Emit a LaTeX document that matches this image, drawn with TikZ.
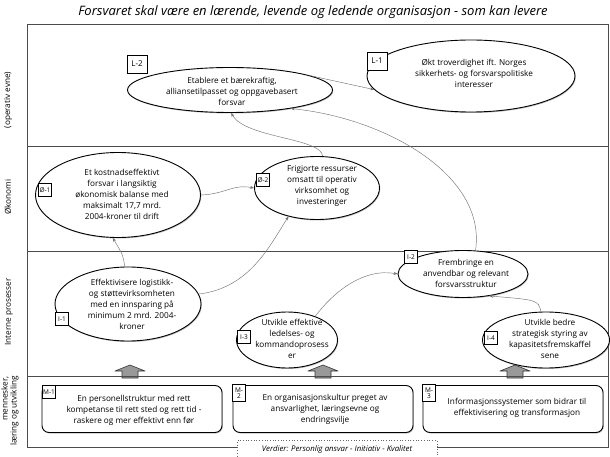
\documentclass[tikz,border=0pt]{standalone}
\usepackage{fontspec}
\setmainfont{Open Sans}
\usetikzlibrary{shapes.geometric,arrows.meta,shadows}

\begin{document}
\begin{tikzpicture}  % ------ Strategikart -----------------------------
      [x=1pt, y=-1pt,
       frame/.style={draw=black!70, line width=0.9pt},
       goal/.style={ellipse, draw, line width=0.9pt, fill=white, inner sep=0pt,
                    drop shadow={shadow xshift=0.8pt, shadow yshift=-1pt, opacity=0.5}},
       goaltxt/.style={align=center, inner sep=0pt, font=\fontsize{8.2}{11}\selectfont},
       mbox/.style={draw, line width=0.9pt, fill=white, rounded corners=7pt,
                    minimum width=180pt, minimum height=47pt,
                    drop shadow={shadow xshift=0.8pt, shadow yshift=-1pt, opacity=0.5}},
       tag/.style={draw, fill=white, line width=0.6pt, inner sep=0.6pt, align=center,
                   font=\fontsize{6.5}{6.5}\selectfont},
       sidelbl/.style={rotate=90, align=right, font=\fontsize{8.2}{9}\selectfont},
       link/.style={draw=black!55, line width=0.45pt, -{Stealth[length=4pt,width=3pt]}},
       uparrow/.style={draw=black!80, fill=black!40, line width=0.6pt, line join=round}]

    \useasboundingbox (0,0) rectangle (610,457);

    \node[font=\itshape\fontsize{13}{14}\selectfont] (title) at (313,12)
      {Forsvaret skal være en lærende, levende og ledende organisasjon - som kan levere};

    % ramme og skillelinjer
    \draw[frame] (27,24) rectangle (608,447);
    \draw[frame] (27,146) -- (608,146);
    \draw[frame] (27,251) -- (608,251);

    \node[sidelbl] (p1) at (8,100) {(operativ evne)};
    \node[sidelbl] (p2) at (8,197) {Økonomi};
    \node[sidelbl] (p3) at (9,312) {Interne prosesser};
    \node[sidelbl] (p4) at (10,411) {mennesker,\\læring og utvikling};

    % ------ operativ evne
    \node[goal, minimum width=205pt, minimum height=45pt] (L2) at (230,90) {};
    \node[goaltxt] (L2t) at (232,91) {Etablere et bærekraftig,\\alliansetilpasset og oppgavebasert\\forsvar};
    \node[tag, minimum width=20pt, minimum height=18pt, font=\fontsize{8}{8}\selectfont] (L2n) at (137,64) {L-2};

    \node[goal, minimum width=208pt, minimum height=72pt] (L1) at (471,76) {};
    \node[goaltxt] (L1t) at (474,73) {Økt troverdighet ift. Norges\\sikkerhets- og forsvarspolitiske\\interesser};
    \node[tag, minimum width=20pt, minimum height=18pt, font=\fontsize{8}{8}\selectfont] (L1n) at (377,61) {L-1};

    % ------ økonomi
    \node[goal, minimum width=165pt, minimum height=85pt] (O1) at (118,195) {};
    \node[goaltxt] (O1t) at (122,194) {Et kostnadseffektivt\\forsvar i langsiktig\\økonomisk balanse med\\maksimalt 17,7 mrd.\\2004-kroner til drift};
    \node[tag, minimum size=13pt] (O1n) at (45,190) {Ø-1};

    \node[goal, minimum width=125pt, minimum height=63pt] (O2) at (317,188) {};
    \node[goaltxt] (O2t) at (322,186) {Frigjorte ressurser\\omsatt til operativ\\virksomhet og\\investeringer};
    \node[tag, minimum size=13pt] (O2n) at (263,180) {Ø-2};

    % ------ interne prosesser
    \node[goal, minimum width=130pt, minimum height=47pt] (I2) at (463,274) {};
    \node[goaltxt] (I2t) at (466,273) {Frembringe en\\anvendbar og relevant\\forsvarsstruktur};
    \node[tag, minimum size=13pt] (I2n) at (411,257) {I-2};

    \node[goal, minimum width=146pt, minimum height=74pt] (I1) at (128,304) {};
    \node[goaltxt] (I1t) at (132,304) {Effektivisere logistikk-\\og støttevirksomheten\\med en innsparing på\\minimum 2 mrd. 2004-\\kroner};
    \node[tag, minimum size=13pt] (I1n) at (62,319) {I-1};

    \node[goal, minimum width=101pt, minimum height=56pt] (I3) at (287,340) {};
    \node[goaltxt] (I3t) at (292,339) {Utvikle effektive\\ledelses- og\\kommandoprosess\\er};
    \node[tag, minimum size=13pt] (I3n) at (244,337) {I-3};

    \node[goal, minimum width=127pt, minimum height=56pt] (I4) at (546,340) {};
    \node[goaltxt] (I4t) at (550,339) {Utvikle bedre\\strategisk styring av\\kapasitetsfremskaffel\\sene};
    \node[tag, minimum size=13pt] (I4n) at (491,338) {I-4};

    % ------ mennesker, læring og utvikling
    \foreach \ax in {130,323,515}
      \draw[uparrow] (\ax-8,378) -- (\ax-8,371) -- (\ax-15,371) -- (\ax,365)
                     -- (\ax+15,371) -- (\ax+8,371) -- (\ax+8,378) -- cycle;
    \draw[frame] (27,376) -- (608,376);

    \node[mbox] (M1) at (132,409) {};
    \node[goaltxt] (M1t) at (134,410) {En personellstruktur med rett\\kompetanse til rett sted og rett tid -\\raskere og mer effektivt enn før};
    \node[tag, minimum size=13pt] (M1n) at (49,392) {M-1};

    \node[mbox] (M2) at (323,409) {};
    \node[goaltxt] (M2t) at (325,409) {En organisasjonskultur preget av\\ansvarlighet, læringsevne og\\endringsvilje};
    \node[tag, minimum width=13pt, minimum height=17pt] (M2n) at (239,393) {M-\\2};

    \node[mbox] (M3) at (513,409) {};
    \node[goaltxt] (M3t) at (517,408) {Informasjonssystemer som bidrar til\\effektivisering og transformasjon};
    \node[tag, minimum width=13pt, minimum height=17pt] (M3n) at (429,393) {M-\\3};

    \node[draw=black!60, dotted, line width=0.7pt, fill=white, minimum width=200pt, minimum height=17pt,
          font=\itshape\fontsize{7.8}{9}\selectfont] (verdier) at (337,449)
      {Verdier: Personlig ansvar - Initiativ - Kvalitet};

    % ------ piler
    \draw[link] (L2.10) -- (L1.188);
    \draw[link] (O2.80) .. controls (322,138) and (245,138) .. (L2.-87);
    \draw[link] (I2.62) .. controls (487,175) and (385,118) .. (L2.-17);
    \draw[link] (O1.east) .. controls (226,194) and (232,184) .. (O2.west);
    \draw[link] (I1.95) .. controls (123,255) .. (O1.-97);
    \draw[link] (I1.8) .. controls (250,288) and (270,245) .. (O2.-135);
    \draw[link] (I3.40) .. controls (335,290) and (365,268) .. (I2.west);
    \draw[link] (I4.100) .. controls (538,300) .. (I2.-40);

\end{tikzpicture}
\end{document}
